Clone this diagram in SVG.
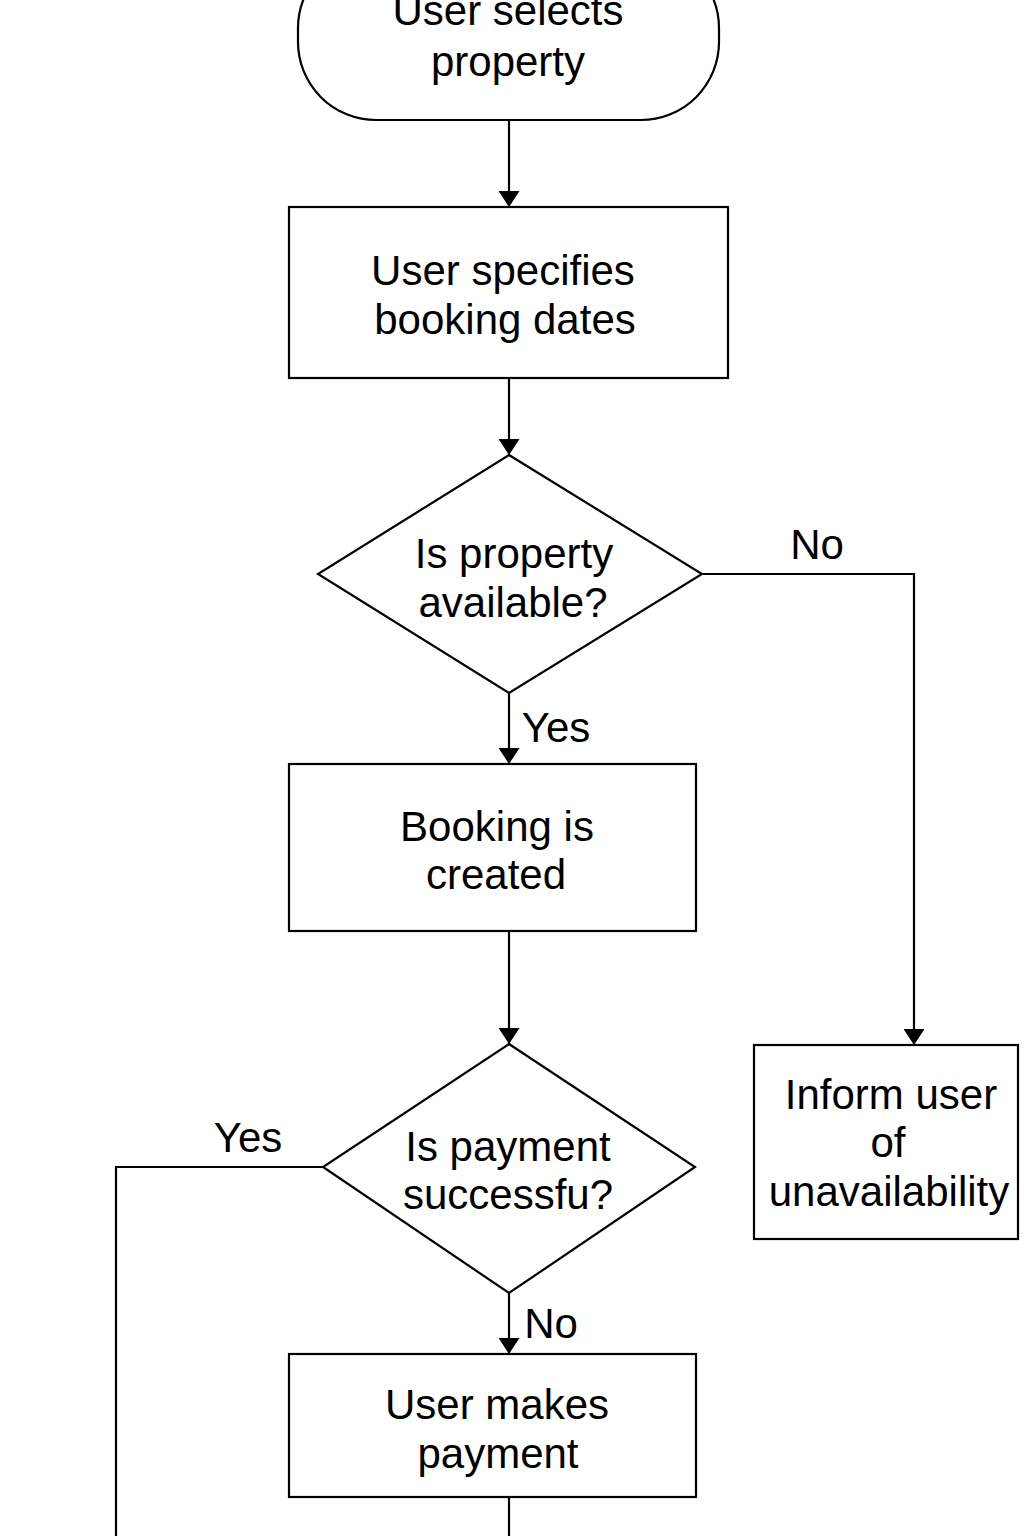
<svg xmlns="http://www.w3.org/2000/svg" width="1024" height="1536" viewBox="0 0 1024 1536">
<defs>
<marker id="arr" viewBox="0 0 16 21" refX="16" refY="10.5" markerWidth="16" markerHeight="21" markerUnits="userSpaceOnUse" orient="auto">
<path d="M0,0 L16,10.5 L0,21 Z" fill="#000"/>
</marker>
</defs>
<style>
.s{fill:#fff;stroke:#000;stroke-width:2.2}
.t{font-family:"Liberation Sans",Arial,sans-serif;font-size:42px;fill:#000;text-anchor:middle}
.c{fill:none;stroke:#000;stroke-width:2.2}
</style>
<rect width="1024" height="1536" fill="#fff"/>
<g id="connectors">
<line class="c" x1="509" y1="120" x2="509" y2="207" marker-end="url(#arr)"/>
<line class="c" x1="509" y1="378" x2="509" y2="455" marker-end="url(#arr)"/>
<line class="c" x1="509" y1="693" x2="509" y2="764" marker-end="url(#arr)"/>
<polyline class="c" points="702,574 914,574 914,1045" marker-end="url(#arr)"/>
<line class="c" x1="509" y1="931" x2="509" y2="1044" marker-end="url(#arr)"/>
<polyline class="c" points="323,1167 116,1167 116,1536"/>
<line class="c" x1="509" y1="1293" x2="509" y2="1354" marker-end="url(#arr)"/>
<line class="c" x1="509" y1="1497" x2="509" y2="1536"/>
<text class="t" x="817" y="559">No</text>
<text class="t" x="556" y="742">Yes</text>
<text class="t" x="248" y="1152">Yes</text>
<text class="t" x="551" y="1338">No</text>
</g>
<g id="start">
<rect class="s" x="298" y="-50" width="421" height="170" rx="78"/>
<text class="t" x="508" y="25">User selects</text>
<text class="t" x="508" y="76">property</text>
</g>
<g id="dates">
<rect class="s" x="289" y="207" width="439" height="171"/>
<text class="t" x="503" y="285">User specifies</text>
<text class="t" x="505" y="334">booking dates</text>
</g>
<g id="available">
<polygon class="s" points="509,455 702,574 509,693 318,574"/>
<text class="t" x="514" y="568">Is property</text>
<text class="t" x="513" y="617">available?</text>
</g>
<g id="created">
<rect class="s" x="289" y="764" width="407" height="167"/>
<text class="t" x="497" y="841">Booking is</text>
<text class="t" x="496" y="889">created</text>
</g>
<g id="payment">
<polygon class="s" points="509,1044 695,1167 509,1293 323,1167"/>
<text class="t" x="508" y="1161">Is payment</text>
<text class="t" x="508" y="1209">successfu?</text>
</g>
<g id="makes">
<rect class="s" x="289" y="1354" width="407" height="143"/>
<text class="t" x="497" y="1419">User makes</text>
<text class="t" x="498" y="1468">payment</text>
</g>
<g id="inform">
<rect class="s" x="754" y="1045" width="264" height="194"/>
<text class="t" x="891" y="1109">Inform user</text>
<text class="t" x="888" y="1157">of</text>
<text class="t" x="889" y="1206">unavailability</text>
</g>
</svg>
